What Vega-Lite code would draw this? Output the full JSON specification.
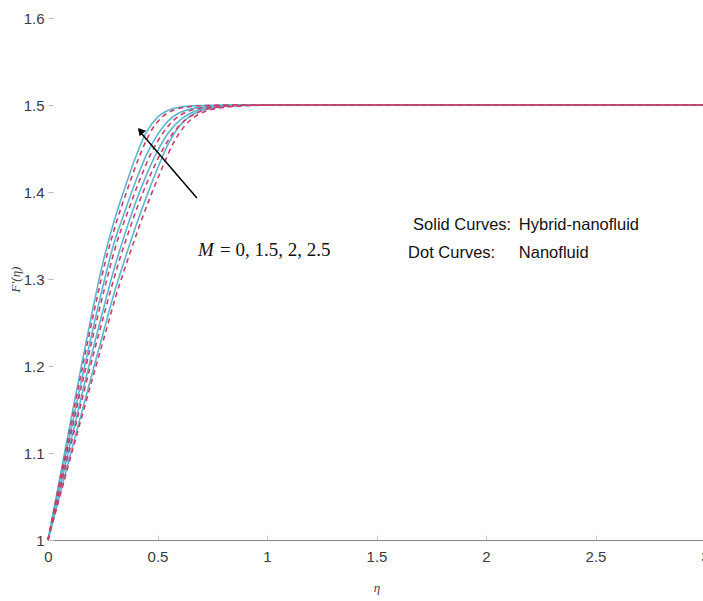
{
  "$schema": "https://vega.github.io/schema/vega-lite/v6.json",
  "autosize": "none",
  "padding": {"left": 48, "top": 18, "right": 0, "bottom": 61},
  "width": 657,
  "height": 522,
  "background": "white",
  "config": {
    "view": {"stroke": null},
    "axis": {"grid": false, "labelFont": "Liberation Sans Narrow, Liberation Sans", "labelFontSize": 15, "labelColor": "#3a3a3a", "titleFont": "Liberation Serif", "titleFontStyle": "italic", "titleFontWeight": "normal", "titleColor": "#444444", "titleFontSize": 13, "format": "~g", "labelFlush": false},
    "axisX": {"domainColor": "#888888", "domainWidth": 1, "tickSize": -5, "tickColor": "#cccccc", "labelPadding": 14, "titlePadding": 17},
    "axisY": {"domain": false, "tickSize": -5, "tickColor": "#bbbbbb", "labelPadding": 9, "titlePadding": 1}
  },
  "datasets": {
    "curves": [
      {"eta": 0, "F": 1, "M": "2.5", "type": "Hybrid-nanofluid"},
      {"eta": 0.05, "F": 1.066, "M": "2.5", "type": "Hybrid-nanofluid"},
      {"eta": 0.1, "F": 1.132, "M": "2.5", "type": "Hybrid-nanofluid"},
      {"eta": 0.15, "F": 1.197, "M": "2.5", "type": "Hybrid-nanofluid"},
      {"eta": 0.2, "F": 1.26, "M": "2.5", "type": "Hybrid-nanofluid"},
      {"eta": 0.25, "F": 1.318, "M": "2.5", "type": "Hybrid-nanofluid"},
      {"eta": 0.3, "F": 1.365, "M": "2.5", "type": "Hybrid-nanofluid"},
      {"eta": 0.35, "F": 1.404, "M": "2.5", "type": "Hybrid-nanofluid"},
      {"eta": 0.4, "F": 1.44, "M": "2.5", "type": "Hybrid-nanofluid"},
      {"eta": 0.45, "F": 1.469, "M": "2.5", "type": "Hybrid-nanofluid"},
      {"eta": 0.5, "F": 1.486, "M": "2.5", "type": "Hybrid-nanofluid"},
      {"eta": 0.55, "F": 1.494, "M": "2.5", "type": "Hybrid-nanofluid"},
      {"eta": 0.6, "F": 1.4975, "M": "2.5", "type": "Hybrid-nanofluid"},
      {"eta": 0.7, "F": 1.4994, "M": "2.5", "type": "Hybrid-nanofluid"},
      {"eta": 0.8, "F": 1.5, "M": "2.5", "type": "Hybrid-nanofluid"},
      {"eta": 3, "F": 1.5, "M": "2.5", "type": "Hybrid-nanofluid"},

      {"eta": 0, "F": 1, "M": "2", "type": "Hybrid-nanofluid"},
      {"eta": 0.05, "F": 1.061, "M": "2", "type": "Hybrid-nanofluid"},
      {"eta": 0.1, "F": 1.121, "M": "2", "type": "Hybrid-nanofluid"},
      {"eta": 0.15, "F": 1.18, "M": "2", "type": "Hybrid-nanofluid"},
      {"eta": 0.2, "F": 1.237, "M": "2", "type": "Hybrid-nanofluid"},
      {"eta": 0.25, "F": 1.291, "M": "2", "type": "Hybrid-nanofluid"},
      {"eta": 0.3, "F": 1.34, "M": "2", "type": "Hybrid-nanofluid"},
      {"eta": 0.35, "F": 1.377, "M": "2", "type": "Hybrid-nanofluid"},
      {"eta": 0.4, "F": 1.412, "M": "2", "type": "Hybrid-nanofluid"},
      {"eta": 0.45, "F": 1.443, "M": "2", "type": "Hybrid-nanofluid"},
      {"eta": 0.5, "F": 1.466, "M": "2", "type": "Hybrid-nanofluid"},
      {"eta": 0.55, "F": 1.482, "M": "2", "type": "Hybrid-nanofluid"},
      {"eta": 0.6, "F": 1.491, "M": "2", "type": "Hybrid-nanofluid"},
      {"eta": 0.7, "F": 1.4975, "M": "2", "type": "Hybrid-nanofluid"},
      {"eta": 0.8, "F": 1.4995, "M": "2", "type": "Hybrid-nanofluid"},
      {"eta": 0.9, "F": 1.5, "M": "2", "type": "Hybrid-nanofluid"},
      {"eta": 3, "F": 1.5, "M": "2", "type": "Hybrid-nanofluid"},

      {"eta": 0, "F": 1, "M": "1.5", "type": "Hybrid-nanofluid"},
      {"eta": 0.05, "F": 1.055, "M": "1.5", "type": "Hybrid-nanofluid"},
      {"eta": 0.1, "F": 1.109, "M": "1.5", "type": "Hybrid-nanofluid"},
      {"eta": 0.15, "F": 1.162, "M": "1.5", "type": "Hybrid-nanofluid"},
      {"eta": 0.2, "F": 1.214, "M": "1.5", "type": "Hybrid-nanofluid"},
      {"eta": 0.25, "F": 1.263, "M": "1.5", "type": "Hybrid-nanofluid"},
      {"eta": 0.3, "F": 1.31, "M": "1.5", "type": "Hybrid-nanofluid"},
      {"eta": 0.35, "F": 1.351, "M": "1.5", "type": "Hybrid-nanofluid"},
      {"eta": 0.4, "F": 1.388, "M": "1.5", "type": "Hybrid-nanofluid"},
      {"eta": 0.45, "F": 1.42, "M": "1.5", "type": "Hybrid-nanofluid"},
      {"eta": 0.5, "F": 1.447, "M": "1.5", "type": "Hybrid-nanofluid"},
      {"eta": 0.55, "F": 1.468, "M": "1.5", "type": "Hybrid-nanofluid"},
      {"eta": 0.6, "F": 1.482, "M": "1.5", "type": "Hybrid-nanofluid"},
      {"eta": 0.65, "F": 1.4905, "M": "1.5", "type": "Hybrid-nanofluid"},
      {"eta": 0.7, "F": 1.4955, "M": "1.5", "type": "Hybrid-nanofluid"},
      {"eta": 0.8, "F": 1.499, "M": "1.5", "type": "Hybrid-nanofluid"},
      {"eta": 0.9, "F": 1.5, "M": "1.5", "type": "Hybrid-nanofluid"},
      {"eta": 3, "F": 1.5, "M": "1.5", "type": "Hybrid-nanofluid"},

      {"eta": 0, "F": 1, "M": "0", "type": "Hybrid-nanofluid"},
      {"eta": 0.05, "F": 1.048, "M": "0", "type": "Hybrid-nanofluid"},
      {"eta": 0.1, "F": 1.096, "M": "0", "type": "Hybrid-nanofluid"},
      {"eta": 0.15, "F": 1.143, "M": "0", "type": "Hybrid-nanofluid"},
      {"eta": 0.2, "F": 1.19, "M": "0", "type": "Hybrid-nanofluid"},
      {"eta": 0.25, "F": 1.236, "M": "0", "type": "Hybrid-nanofluid"},
      {"eta": 0.3, "F": 1.282, "M": "0", "type": "Hybrid-nanofluid"},
      {"eta": 0.35, "F": 1.322, "M": "0", "type": "Hybrid-nanofluid"},
      {"eta": 0.4, "F": 1.36, "M": "0", "type": "Hybrid-nanofluid"},
      {"eta": 0.45, "F": 1.395, "M": "0", "type": "Hybrid-nanofluid"},
      {"eta": 0.5, "F": 1.427, "M": "0", "type": "Hybrid-nanofluid"},
      {"eta": 0.55, "F": 1.456, "M": "0", "type": "Hybrid-nanofluid"},
      {"eta": 0.6, "F": 1.476, "M": "0", "type": "Hybrid-nanofluid"},
      {"eta": 0.65, "F": 1.4875, "M": "0", "type": "Hybrid-nanofluid"},
      {"eta": 0.7, "F": 1.4935, "M": "0", "type": "Hybrid-nanofluid"},
      {"eta": 0.8, "F": 1.498, "M": "0", "type": "Hybrid-nanofluid"},
      {"eta": 0.9, "F": 1.4995, "M": "0", "type": "Hybrid-nanofluid"},
      {"eta": 1.0, "F": 1.5, "M": "0", "type": "Hybrid-nanofluid"},
      {"eta": 3, "F": 1.5, "M": "0", "type": "Hybrid-nanofluid"},

      {"eta": 0, "F": 1, "M": "2.5", "type": "Nanofluid"},
      {"eta": 0.052, "F": 1.066, "M": "2.5", "type": "Nanofluid"},
      {"eta": 0.104, "F": 1.132, "M": "2.5", "type": "Nanofluid"},
      {"eta": 0.156, "F": 1.197, "M": "2.5", "type": "Nanofluid"},
      {"eta": 0.208, "F": 1.26, "M": "2.5", "type": "Nanofluid"},
      {"eta": 0.26, "F": 1.318, "M": "2.5", "type": "Nanofluid"},
      {"eta": 0.312, "F": 1.365, "M": "2.5", "type": "Nanofluid"},
      {"eta": 0.364, "F": 1.404, "M": "2.5", "type": "Nanofluid"},
      {"eta": 0.416, "F": 1.44, "M": "2.5", "type": "Nanofluid"},
      {"eta": 0.468, "F": 1.469, "M": "2.5", "type": "Nanofluid"},
      {"eta": 0.52, "F": 1.486, "M": "2.5", "type": "Nanofluid"},
      {"eta": 0.572, "F": 1.494, "M": "2.5", "type": "Nanofluid"},
      {"eta": 0.624, "F": 1.4975, "M": "2.5", "type": "Nanofluid"},
      {"eta": 0.728, "F": 1.4994, "M": "2.5", "type": "Nanofluid"},
      {"eta": 0.832, "F": 1.5, "M": "2.5", "type": "Nanofluid"},
      {"eta": 3, "F": 1.5, "M": "2.5", "type": "Nanofluid"},

      {"eta": 0, "F": 1, "M": "2", "type": "Nanofluid"},
      {"eta": 0.052, "F": 1.061, "M": "2", "type": "Nanofluid"},
      {"eta": 0.104, "F": 1.121, "M": "2", "type": "Nanofluid"},
      {"eta": 0.156, "F": 1.18, "M": "2", "type": "Nanofluid"},
      {"eta": 0.208, "F": 1.237, "M": "2", "type": "Nanofluid"},
      {"eta": 0.26, "F": 1.291, "M": "2", "type": "Nanofluid"},
      {"eta": 0.312, "F": 1.34, "M": "2", "type": "Nanofluid"},
      {"eta": 0.364, "F": 1.377, "M": "2", "type": "Nanofluid"},
      {"eta": 0.416, "F": 1.412, "M": "2", "type": "Nanofluid"},
      {"eta": 0.468, "F": 1.443, "M": "2", "type": "Nanofluid"},
      {"eta": 0.52, "F": 1.466, "M": "2", "type": "Nanofluid"},
      {"eta": 0.572, "F": 1.482, "M": "2", "type": "Nanofluid"},
      {"eta": 0.624, "F": 1.491, "M": "2", "type": "Nanofluid"},
      {"eta": 0.728, "F": 1.4975, "M": "2", "type": "Nanofluid"},
      {"eta": 0.832, "F": 1.4995, "M": "2", "type": "Nanofluid"},
      {"eta": 0.936, "F": 1.5, "M": "2", "type": "Nanofluid"},
      {"eta": 3, "F": 1.5, "M": "2", "type": "Nanofluid"},

      {"eta": 0, "F": 1, "M": "1.5", "type": "Nanofluid"},
      {"eta": 0.052, "F": 1.055, "M": "1.5", "type": "Nanofluid"},
      {"eta": 0.104, "F": 1.109, "M": "1.5", "type": "Nanofluid"},
      {"eta": 0.156, "F": 1.162, "M": "1.5", "type": "Nanofluid"},
      {"eta": 0.208, "F": 1.214, "M": "1.5", "type": "Nanofluid"},
      {"eta": 0.26, "F": 1.263, "M": "1.5", "type": "Nanofluid"},
      {"eta": 0.312, "F": 1.31, "M": "1.5", "type": "Nanofluid"},
      {"eta": 0.364, "F": 1.351, "M": "1.5", "type": "Nanofluid"},
      {"eta": 0.416, "F": 1.388, "M": "1.5", "type": "Nanofluid"},
      {"eta": 0.468, "F": 1.42, "M": "1.5", "type": "Nanofluid"},
      {"eta": 0.52, "F": 1.447, "M": "1.5", "type": "Nanofluid"},
      {"eta": 0.572, "F": 1.468, "M": "1.5", "type": "Nanofluid"},
      {"eta": 0.624, "F": 1.482, "M": "1.5", "type": "Nanofluid"},
      {"eta": 0.676, "F": 1.4905, "M": "1.5", "type": "Nanofluid"},
      {"eta": 0.728, "F": 1.4955, "M": "1.5", "type": "Nanofluid"},
      {"eta": 0.832, "F": 1.499, "M": "1.5", "type": "Nanofluid"},
      {"eta": 0.936, "F": 1.5, "M": "1.5", "type": "Nanofluid"},
      {"eta": 3, "F": 1.5, "M": "1.5", "type": "Nanofluid"},

      {"eta": 0, "F": 1, "M": "0", "type": "Nanofluid"},
      {"eta": 0.052, "F": 1.048, "M": "0", "type": "Nanofluid"},
      {"eta": 0.104, "F": 1.096, "M": "0", "type": "Nanofluid"},
      {"eta": 0.156, "F": 1.143, "M": "0", "type": "Nanofluid"},
      {"eta": 0.208, "F": 1.19, "M": "0", "type": "Nanofluid"},
      {"eta": 0.26, "F": 1.236, "M": "0", "type": "Nanofluid"},
      {"eta": 0.312, "F": 1.282, "M": "0", "type": "Nanofluid"},
      {"eta": 0.364, "F": 1.322, "M": "0", "type": "Nanofluid"},
      {"eta": 0.416, "F": 1.36, "M": "0", "type": "Nanofluid"},
      {"eta": 0.468, "F": 1.395, "M": "0", "type": "Nanofluid"},
      {"eta": 0.52, "F": 1.427, "M": "0", "type": "Nanofluid"},
      {"eta": 0.572, "F": 1.456, "M": "0", "type": "Nanofluid"},
      {"eta": 0.624, "F": 1.476, "M": "0", "type": "Nanofluid"},
      {"eta": 0.676, "F": 1.4875, "M": "0", "type": "Nanofluid"},
      {"eta": 0.728, "F": 1.4935, "M": "0", "type": "Nanofluid"},
      {"eta": 0.832, "F": 1.498, "M": "0", "type": "Nanofluid"},
      {"eta": 0.936, "F": 1.4995, "M": "0", "type": "Nanofluid"},
      {"eta": 1.04, "F": 1.5, "M": "0", "type": "Nanofluid"},
      {"eta": 3, "F": 1.5, "M": "0", "type": "Nanofluid"}
    ]
  },
  "layer": [
    {
      "data": {"name": "curves"},
      "transform": [{"filter": "datum.type === 'Hybrid-nanofluid'"}],
      "mark": {"type": "line", "color": "#5ab6d3", "strokeWidth": 1.6, "interpolate": "monotone"},
      "encoding": {
        "x": {
          "field": "eta", "type": "quantitative",
          "scale": {"domain": [0, 3], "nice": false, "zero": false},
          "axis": {"title": "η", "values": [0, 0.5, 1, 1.5, 2, 2.5, 3]}
        },
        "y": {
          "field": "F", "type": "quantitative",
          "scale": {"domain": [1, 1.6], "nice": false, "zero": false},
          "axis": {"title": "F′(η)", "values": [1, 1.1, 1.2, 1.3, 1.4, 1.5, 1.6]}
        },
        "detail": {"field": "M"}
      }
    },
    {
      "data": {"name": "curves"},
      "transform": [{"filter": "datum.type === 'Nanofluid'"}],
      "mark": {"type": "line", "color": "#c8406a", "strokeWidth": 1.6, "strokeDash": [5, 4], "interpolate": "monotone"},
      "encoding": {
        "x": {
          "field": "eta", "type": "quantitative",
          "axis": {"title": "η", "values": [0, 0.5, 1, 1.5, 2, 2.5, 3]}
        },
        "y": {
          "field": "F", "type": "quantitative",
          "axis": {"title": "F′(η)", "values": [1, 1.1, 1.2, 1.3, 1.4, 1.5, 1.6]}
        },
        "detail": {"field": "M"}
      }
    },
    {
      "data": {"values": [{}]},
      "mark": {"type": "rule", "color": "black", "strokeWidth": 1.5},
      "encoding": {
        "x": {"datum": 0.68}, "y": {"datum": 1.393},
        "x2": {"datum": 0.414}, "y2": {"datum": 1.471}
      }
    },
    {
      "data": {"values": [{}]},
      "mark": {"type": "point", "shape": "triangle-up", "filled": true, "color": "black", "size": 70, "angle": 320, "opacity": 1},
      "encoding": {"x": {"datum": 0.422}, "y": {"datum": 1.4705}}
    },
    {
      "data": {"values": [{}]},
      "mark": {"type": "text", "text": "M", "font": "Liberation Serif", "fontStyle": "italic", "fontSize": 19, "align": "left", "baseline": "middle", "color": "#111111"},
      "encoding": {"x": {"datum": 0.685}, "y": {"datum": 1.333}}
    },
    {
      "data": {"values": [{}]},
      "mark": {"type": "text", "text": "= 0, 1.5, 2, 2.5", "font": "Liberation Serif", "fontSize": 19, "align": "left", "baseline": "middle", "color": "#111111"},
      "encoding": {"x": {"datum": 0.785}, "y": {"datum": 1.333}}
    },
    {
      "data": {"values": [{}]},
      "mark": {"type": "text", "text": "Solid Curves:", "font": "Liberation Sans Narrow, Liberation Sans", "fontSize": 16.5, "align": "left", "baseline": "middle", "color": "#111111"},
      "encoding": {"x": {"datum": 1.667}, "y": {"datum": 1.362}}
    },
    {
      "data": {"values": [{}]},
      "mark": {"type": "text", "text": "Hybrid-nanofluid", "font": "Liberation Sans Narrow, Liberation Sans", "fontSize": 16.5, "align": "left", "baseline": "middle", "color": "#111111"},
      "encoding": {"x": {"datum": 2.15}, "y": {"datum": 1.362}}
    },
    {
      "data": {"values": [{}]},
      "mark": {"type": "text", "text": "Dot Curves:", "font": "Liberation Sans Narrow, Liberation Sans", "fontSize": 16.5, "align": "left", "baseline": "middle", "color": "#111111"},
      "encoding": {"x": {"datum": 1.644}, "y": {"datum": 1.33}}
    },
    {
      "data": {"values": [{}]},
      "mark": {"type": "text", "text": "Nanofluid", "font": "Liberation Sans Narrow, Liberation Sans", "fontSize": 16.5, "align": "left", "baseline": "middle", "color": "#111111"},
      "encoding": {"x": {"datum": 2.15}, "y": {"datum": 1.33}}
    }
  ]
}
